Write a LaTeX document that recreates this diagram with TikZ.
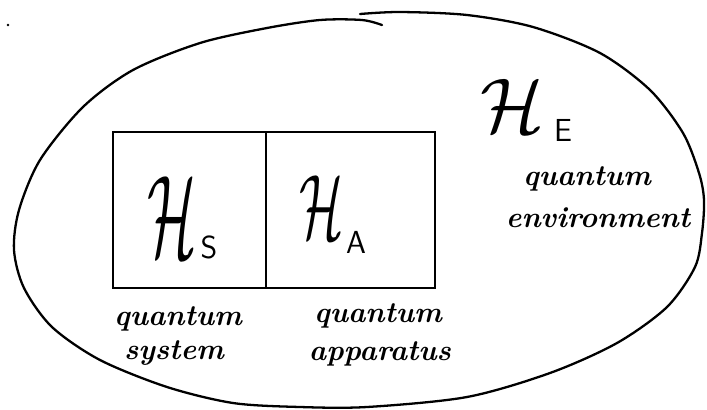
\documentclass[tikz,border=0pt]{standalone}
\usepackage{graphicx}
\begin{document}
\begin{tikzpicture}[x=1bp,y=-1bp,
  boxcell/.style={draw, line width=1.3pt, minimum height=156bp, inner sep=0pt},
  hand/.style={font=\fontsize{29.5}{32}\selectfont\bfseries\itshape, inner sep=0pt, anchor=base},
  subl/.style={font=\fontsize{32}{32}\selectfont\sffamily, inner sep=0pt},
  rim/.style={line width=2.3pt, line cap=round, line join=round}]
\useasboundingbox (0,0) rectangle (707,409);
% stray dot
\fill (8,25) circle (1.4bp);
% environment ellipse (hand-drawn, overlapping at top)
\draw[rim] plot[smooth] coordinates {
 (360,14) (400,12) (467,15) (533,27) (600,53) (650,90) (683,133) (699,173)
 (704,200) (702,233) (695,267) (667,307) (617,343) (550,373) (467,397)
 (367,407) (300,407) (233,403) (167,387) (100,360) (52,327) (24,288)
 (14,250) (19,210) (40,160) (83,107) (133,70) (200,43) (267,28) (320,20)
 (362,20) (382,25)};
% boxes
\node[boxcell, minimum width=153bp] (sbox) at (189.5,210) {};
\node[boxcell, minimum width=169bp] (abox) at (350.5,210) {};
% H_S
\node[inner sep=0pt] (hs) at (172,217) {\scalebox{5.8}[11.7]{$\mathcal{H}$}};
\node[subl] (hss) at (209,247) {S};
% H_A
\node[inner sep=0pt] (ha) at (322,207) {\scalebox{5.2}[9.2]{$\mathcal{H}$}};
\node[subl] (has) at (356,242) {A};
% H_E
\node[inner sep=0pt] (he) at (512,106) {\scalebox{7.5}[7.8]{$\mathcal{H}$}};
\node[subl] (hes) at (563,130) {E};
% labels
\node[hand] (q1) at (178,325) {quantum};
\node[hand] (sy) at (174,359) {system};
\node[hand] (q2) at (378,322) {quantum};
\node[hand] (ap) at (380,360) {apparatus};
\node[hand] (q3) at (587,185) {quantum};
\node[hand] (en) at (598,227) {environment};
\end{tikzpicture}
\end{document}
